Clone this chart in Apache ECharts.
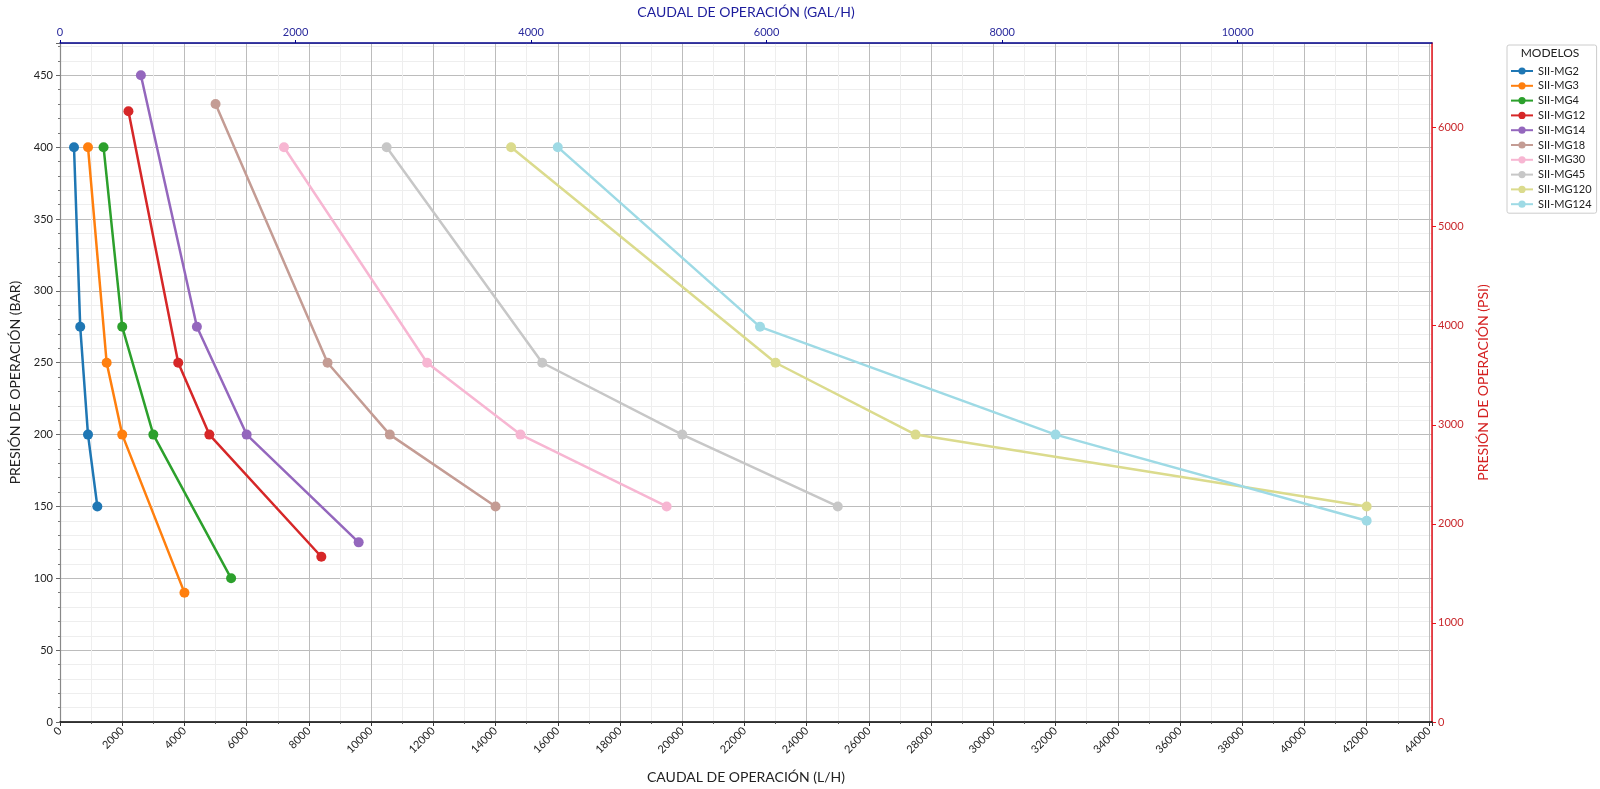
<!DOCTYPE html>
<html lang="es">
<head>
    <meta charset="UTF-8">
    <title>Caudal vs presión de operación</title>
    <script src="https://cdn.jsdelivr.net/npm/echarts@6/dist/echarts.min.js"></script>
    <style>
        html, body { margin: 0; padding: 0; background: #fff; }
        #main { width: 1600px; height: 789px; }
    </style>
</head>
<body>
<div id="main"></div>

<script type="text/javascript">
    // modelos y colores
    var models = ['SII-MG2', 'SII-MG3', 'SII-MG4', 'SII-MG12', 'SII-MG14',
        'SII-MG18', 'SII-MG30', 'SII-MG45', 'SII-MG120', 'SII-MG124'];
    var colors = ['#1f77b4', '#ff7f0e', '#2ca02c', '#d62728', '#9467bd',
        '#c49c94', '#f7b6d2', '#c7c7c7', '#dbdb8d', '#9edae5'];

    // caudal (L/H) y presión (BAR) por modelo
    var qMG2 = [450, 650, 900, 1200],        pMG2 = [400, 275, 200, 150];
    var qMG3 = [900, 1500, 2000, 4000],      pMG3 = [400, 250, 200, 90];
    var qMG4 = [1400, 2000, 3000, 5500],     pMG4 = [400, 275, 200, 100];
    var qMG12 = [2200, 3800, 4800, 8400],    pMG12 = [425, 250, 200, 115];
    var qMG14 = [2600, 4400, 6000, 9600],    pMG14 = [450, 275, 200, 125];
    var qMG18 = [5000, 8600, 10600, 14000],  pMG18 = [430, 250, 200, 150];
    var qMG30 = [7200, 11800, 14800, 19500], pMG30 = [400, 250, 200, 150];
    var qMG45 = [10500, 15500, 20000, 25000], pMG45 = [400, 250, 200, 150];
    var qMG120 = [14500, 23000, 27500, 42000], pMG120 = [400, 250, 200, 150];
    var qMG124 = [16000, 22500, 32000, 42000], pMG124 = [400, 275, 200, 140];

    var flows = [qMG2, qMG3, qMG4, qMG12, qMG14, qMG18, qMG30, qMG45, qMG120, qMG124];
    var pressures = [pMG2, pMG3, pMG4, pMG12, pMG14, pMG18, pMG30, pMG45, pMG120, pMG124];

    var L_PER_GAL = 3.78541;
    var PSI_PER_BAR = 14.5038;
    var xMax = 44100, yMax = 472.5;

    var font = 'Lato';
    var navy = '#00008b';
    var red = '#e8141c';

    function plain(v) { return String(Math.round(v)); }

    var series = models.map(function (name, i) {
        return {
            name: name,
            type: 'line',
            xAxisIndex: 0,
            yAxisIndex: 0,
            symbol: 'circle',
            symbolSize: 10,
            color: colors[i],
            lineStyle: { width: 2.5 },
            data: flows[i].map(function (q, k) { return [q, pressures[i][k]]; })
        };
    });

    var myChart = echarts.init(document.getElementById('main'));

    var option = {
        animation: false,
        textStyle: { fontFamily: font },
        grid: { left: 53, right: 168, top: 39, bottom: 64 },
        graphic: [{
            type: 'text',
            x: 1550, y: 53,
            style: {
                text: 'MODELOS', fontFamily: font, fontSize: 12, fill: '#222',
                textAlign: 'center', textVerticalAlign: 'middle'
            },
            z: 100
        }],
        legend: {
            orient: 'vertical',
            left: 1507, top: 45,
            padding: [20, 5, 3, 3],
            itemWidth: 22, itemHeight: 9, itemGap: 2.8,
            borderColor: '#cccccc', borderWidth: 1, borderRadius: 2,
            backgroundColor: '#fff',
            textStyle: { fontFamily: font, fontSize: 11, lineHeight: 12, color: '#222' },
            data: models
        },
        xAxis: [{
            type: 'value', position: 'bottom',
            min: 0, max: xMax, interval: 2000,
            name: 'CAUDAL DE OPERACIÓN (L/H)', nameLocation: 'middle', nameGap: 48,
            nameTextStyle: { fontSize: 14, color: '#222' },
            axisLine: { show: true, onZero: false, lineStyle: { color: '#000', width: 1.5 } },
            axisTick: { show: true, length: 4, lineStyle: { color: '#333' } },
            minorTick: { show: true, splitNumber: 2, length: 2, lineStyle: { color: '#555' } },
            axisLabel: { rotate: 45, fontSize: 11, color: '#222', margin: 7, showMaxLabel: false, formatter: plain },
            splitLine: { show: true, lineStyle: { color: '#bcbcbc', width: 1 } },
            minorSplitLine: { show: true, lineStyle: { color: '#eeeeee', width: 1 } }
        }, {
            type: 'value', position: 'top',
            min: 0, max: xMax / L_PER_GAL, interval: 2000,
            name: 'CAUDAL DE OPERACIÓN (GAL/H)', nameLocation: 'middle', nameGap: 24,
            nameTextStyle: { fontSize: 14, color: '#1c1c9c' },
            axisLine: { show: true, onZero: false, lineStyle: { color: navy, width: 1.5 } },
            axisTick: { show: true, length: 3, lineStyle: { color: navy } },
            axisLabel: { fontSize: 11, color: '#2a2a9c', margin: 5, showMaxLabel: false, formatter: plain },
            splitLine: { show: false }
        }],
        yAxis: [{
            type: 'value', position: 'left',
            min: 0, max: yMax, interval: 50,
            name: 'PRESIÓN DE OPERACIÓN (BAR)', nameLocation: 'middle', nameGap: 38,
            nameTextStyle: { fontSize: 14, color: '#222' },
            axisLine: { show: true, onZero: false, lineStyle: { color: '#888', width: 1.2 } },
            axisTick: { show: true, length: 4, lineStyle: { color: '#666' } },
            minorTick: { show: true, splitNumber: 5, length: 2, lineStyle: { color: '#777' } },
            axisLabel: { fontSize: 11, color: '#222', margin: 7, showMaxLabel: false, formatter: plain },
            splitLine: { show: true, lineStyle: { color: '#bcbcbc', width: 1 } },
            minorSplitLine: { show: true, lineStyle: { color: '#eeeeee', width: 1 } }
        }, {
            type: 'value', position: 'right',
            min: 0, max: yMax * PSI_PER_BAR, interval: 1000,
            name: 'PRESIÓN DE OPERACIÓN (PSI)', nameLocation: 'middle', nameGap: 44,
            nameTextStyle: { fontSize: 14, color: '#d42020' },
            axisLine: { show: true, onZero: false, lineStyle: { color: red, width: 1.5 } },
            axisTick: { show: true, length: 4, lineStyle: { color: red } },
            axisLabel: { fontSize: 11, color: '#c8282c', margin: 6, showMaxLabel: false, formatter: plain },
            splitLine: { show: false }
        }],
        series: series
    };

    myChart.setOption(option);
</script>
</body>
</html>
